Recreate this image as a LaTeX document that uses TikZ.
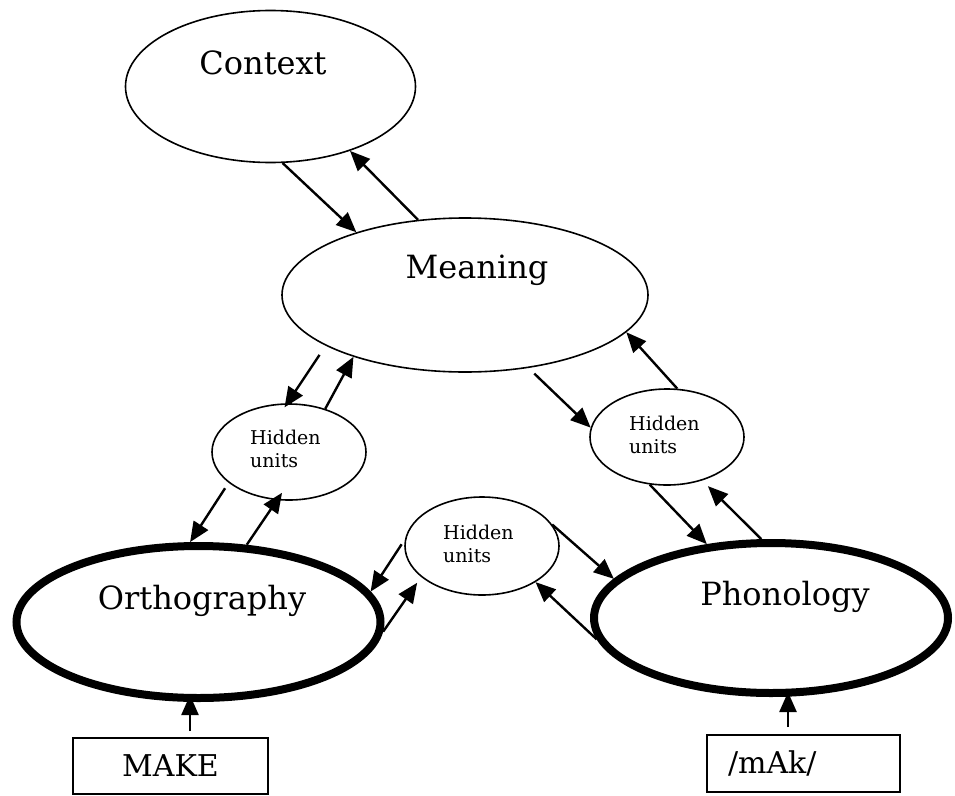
\documentclass[tikz,border=0pt]{standalone}
\usepackage{fontspec}
\setmainfont{DejaVu Serif}
\usetikzlibrary{arrows.meta,shapes.geometric}
\begin{document}
\begin{tikzpicture}[x=1pt,y=-1pt,
  thinell/.style={ellipse, draw, line width=1.6pt, inner sep=0pt, outer sep=0.8pt},
  thickell/.style={ellipse, draw, line width=8pt, inner sep=0pt, outer sep=4pt},
  hidell/.style={thinell, minimum width=154pt, minimum height=96pt},
  link/.style={line width=2.4pt, -{Triangle[length=20pt,width=17pt]}},
  biglabel/.style={font=\fontsize{32}{38}\selectfont, inner sep=0pt},
  smalllabel/.style={font=\fontsize{19}{23}\selectfont, align=left, inner sep=0pt, anchor=west},
  inbox/.style={draw, line width=1.6pt, inner sep=0pt, font=\fontsize{30}{36}\selectfont}]
\useasboundingbox (0,0) rectangle (955,795);

% layers of the model
\node[thinell, minimum width=290pt, minimum height=152pt] (ctx) at (270.5,86.5) {};
\node[thinell, minimum width=366pt, minimum height=154pt] (mng) at (465,295) {};
\node[hidell] (hl) at (289,452) {};
\node[hidell] (hr) at (667,437) {};
\node[hidell, minimum height=98pt] (hm) at (482,546) {};
\node[thickell, minimum width=364pt, minimum height=152pt] (orth) at (198.5,622) {};
\node[thickell, minimum width=354pt, minimum height=150pt] (phon) at (771,618) {};

% layer names
\node[biglabel] (ctx-t) at (263,62.5) {Context};
\node[biglabel] (mng-t) at (477,270) {Meaning};
\node[biglabel] (orth-t) at (202,600.5) {Orthography};
\node[biglabel] (phon-t) at (785,596.5) {Phonology};
\node[smalllabel] (hl-t) at (250,449) {Hidden\\units};
\node[smalllabel] (hr-t) at (629,434.5) {Hidden\\units};
\node[smalllabel] (hm-t) at (443,544) {Hidden\\units};

% inputs
\node[inbox, minimum width=195pt, minimum height=56pt] (make) at (170.5,766) {MAKE};
\node[inbox, minimum height=57pt, text width=151pt, inner xsep=21pt, align=left] (mak) at (803.5,763.5) {/mAk/};
\coordinate (make-in) at ([xshift=19.5pt]make.north);
\coordinate (mak-in) at ([xshift=-15.5pt]mak.north);

% connections
\draw[link] (ctx.-81.5) -- (mng.150.7);
\draw[link] (mng.122.6) -- (ctx.-39.1);
\draw[link, shorten <=11pt, shorten >=-5pt] (mng.200.4) -- (hl.92.6);
\draw[link] (hl.50.7) -- (mng.209.7);
\draw[link, shorten <=8pt] (mng.-49.4) -- (hr.173.2);
\draw[link] (hr.78.2) -- (mng.-13.4);
\draw[link, shorten <=6.5pt] (hl.207.7) -- (orth.96.1);
\draw[link, shorten >=-9pt] (orth.58.3) -- (hl.256);
\draw[link, shorten >=7pt] (orth.-3.4) -- (hm.207.4);
\draw[link, shorten <=6pt] (hm.175.7) -- (orth.10.4);
\draw[link] (hm.17.5) -- (phon.166.3);
\draw[link] (phon.187.7) -- (hm.-34.9);
\draw[link] (hr.250.5) -- (phon.131);
\draw[link, shorten >=8pt] (phon.97.7) -- (hr.-51.1);
\draw[link, shorten <=6pt, shorten >=-7pt] (make-in) -- (make-in |- orth.south);
\draw[link, shorten <=7pt, shorten >=-5pt] (mak-in) -- (mak-in |- phon.south);
\end{tikzpicture}
\end{document}
